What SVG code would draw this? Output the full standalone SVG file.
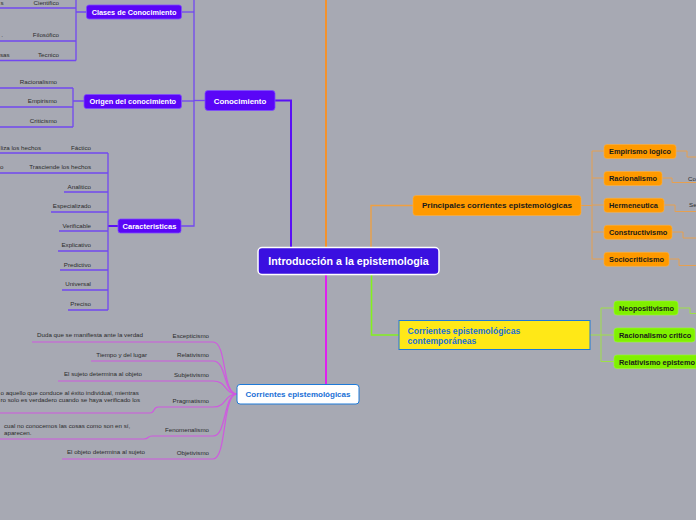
<svg xmlns="http://www.w3.org/2000/svg" width="696" height="520" viewBox="0 0 696 520">
<style>
  .bg{fill:#a7a9b3}
  .t{font-family:"Liberation Sans",Arial,sans-serif;font-size:6.2px;fill:#2b2b2b}
  .te{text-anchor:end}
  .nb{font-family:"Liberation Sans",Arial,sans-serif;font-weight:bold}
  .pn{fill:#5a06f7;stroke:#7d4cff;stroke-width:0.8}
  .on{fill:#ff9a00;stroke:#ffb040;stroke-width:0.6}
  .gn{fill:#80f000;stroke:#9cff30;stroke-width:0.6}
  .wt{fill:#fff}
  .dk{fill:#1a1a1a}
  .pl{fill:none;stroke:#7248f0;stroke-width:1.3}
  .pm{fill:none;stroke:#5a10f5;stroke-width:2}
  .ml{fill:none;stroke:#d058e0;stroke-width:1.2}
  .ol{fill:none;stroke:#e6a050;stroke-width:1}
  .gl{fill:none;stroke:#9ee046;stroke-width:1}
</style>
<rect class="bg" x="0" y="0" width="696" height="520"/>

<g id="connectors">
  <path class="pm" d="M291,247 V100.5 H275"/>
  <path fill="none" stroke="#f3922c" stroke-width="2" d="M326,247 V-2"/>
  <path fill="none" stroke="#f0a040" stroke-width="1.3" d="M371,247 V205.5 H413"/>
  <path fill="none" stroke="#e020f0" stroke-width="2" d="M326,274 V385"/>
  <path fill="none" stroke="#84f020" stroke-width="1.6" d="M371.5,274 V335 H399"/>

  <path class="pl" d="M194,-2 V226 H181"/>
  <path class="pl" d="M194,100.5 H205"/>
  <path class="pl" d="M194,12 H182"/>
  <path class="pl" d="M194,101 H182"/>

  <path class="pl" d="M86,12 H76 M76,-2 V60.5 M0,8 H76 M0,41 H76 M0,60.5 H76"/>
  <path class="pl" d="M84,101 H73 M73,88 V127 M0,88 H73 M0,107 H73 M0,127 H73"/>
  <path class="pm" d="M118,226 H108"/>
  <path class="pl" d="M108,153 V310 M0,153 H108 M0,173 H108 M64,192 H108 M51,212 H108 M59,231 H108 M58,251 H108 M60,270 H108 M62,290 H108 M68,310 H108"/>

  <path class="ml" d="M237,394 C222,394 227,342 213,342 H32"/>
  <path class="ml" d="M237,394 C223,394 227,361 213,361 H91"/>
  <path class="ml" d="M237,394 C224,394 227,381 213,381 H58"/>
  <path class="ml" d="M237,394 C224,394 227,407 213,407 H158 C153,407 155,413 150,413 H0"/>
  <path class="ml" d="M237,394 C223,394 227,436 213,436 H152 C147,436 149,439 144,439 H0"/>
  <path class="ml" d="M237,394 C222,394 227,459 213,459 H62"/>

  <path class="ol" d="M581,205.5 H592 M592,151 V259 M592,151 H604 M592,178 H604 M592,205 H604 M592,232 H604 M592,259 H604"/>
  <path class="ol" d="M676,151 H687 V157 H696"/>
  <path class="ol" d="M662,178 H672 V182.5 H696"/>
  <path class="ol" d="M664,205 H675 V211.5 H696"/>
  <path class="ol" d="M672,232 H683 V238 H696"/>
  <path class="ol" d="M669,259 H679 V265.5 H696"/>

  <path class="gl" d="M590,335 H601 M601,308 V361.5 M601,308 H614 M601,335 H614 M601,361.5 H614"/>
  <path class="gl" d="M678,308 H690 V313.5 H696"/>
</g>

<g id="central">
  <rect x="258" y="247.5" width="181" height="27" rx="4" fill="#3a10e0" stroke="#ffffff" stroke-width="1.5"/>
  <text class="nb wt" x="348.5" y="265.3" font-size="10.7" text-anchor="middle">Introducción a la epistemologia</text>
</g>

<g id="conocimiento">
  <rect class="pn" x="205" y="90.5" width="70" height="20" rx="3"/>
  <text class="nb wt" x="240" y="103.5" font-size="7.9" text-anchor="middle">Conocimiento</text>
</g>

<g id="clases">
  <rect class="pn" x="86.5" y="5" width="95" height="14" rx="2.5"/>
  <text class="nb wt" x="134" y="14.6" font-size="7.3" text-anchor="middle">Clases de Conocimiento</text>
</g>
<g id="clases-children">
  <text class="t te" x="59" y="5.2">Cientifico</text>
  <text class="t te" x="59" y="37">Filosófico</text>
  <text class="t te" x="59" y="57">Tecnico</text>
  <text class="t te" x="3.5" y="5.2">s</text>
  <text class="t te" x="3" y="37">.</text>
  <text class="t te" x="9.6" y="57">sas</text>
</g>

<g id="origen">
  <rect class="pn" x="84" y="94.5" width="97.5" height="14" rx="2.5"/>
  <text class="nb wt" x="132.8" y="104.2" font-size="7.4" text-anchor="middle">Origen del conocimiento</text>
</g>
<g id="origen-children">
  <text class="t te" x="57" y="84">Racionalismo</text>
  <text class="t te" x="57" y="103">Empirismo</text>
  <text class="t te" x="57" y="123">Criticismo</text>
</g>

<g id="caracteristicas">
  <rect class="pn" x="118" y="219" width="63" height="14" rx="2.5"/>
  <text class="nb wt" x="149.5" y="228.7" font-size="7.5" text-anchor="middle">Caracteristicas</text>
</g>
<g id="caracteristicas-children">
  <text class="t te" x="91" y="150">Fáctico</text>
  <text class="t te" x="41" y="150">liza los hechos</text>
  <text class="t te" x="91" y="169">Trasciende los hechos</text>
  <text class="t te" x="3.5" y="169">o</text>
  <text class="t te" x="91" y="189">Analitico</text>
  <text class="t te" x="91" y="208">Especializado</text>
  <text class="t te" x="91" y="228">Verificable</text>
  <text class="t te" x="91" y="247">Explicativo</text>
  <text class="t te" x="91" y="267">Predictivo</text>
  <text class="t te" x="91" y="286">Universal</text>
  <text class="t te" x="91" y="306">Preciso</text>
</g>

<g id="corrientes">
  <rect x="237" y="384.5" width="122" height="19.5" rx="3" fill="#ffffff" stroke="#1e7ad8" stroke-width="1"/>
  <text class="nb" x="298" y="397.2" font-size="8" text-anchor="middle" fill="#1a6fd6">Corrientes epistemológicas</text>
</g>
<g id="corrientes-children">
  <text class="t te" x="209" y="338">Escepticismo</text>
  <text class="t te" x="143" y="337">Duda que se manifiesta ante la verdad</text>
  <text class="t te" x="209" y="357">Relativismo</text>
  <text class="t te" x="147" y="357">Tiempo y del lugar</text>
  <text class="t te" x="209" y="377">Subjetivismo</text>
  <text class="t te" x="142" y="376">El sujeto determina al objeto</text>
  <text class="t te" x="209" y="403">Pragmatismo</text>
  <text class="t" x="0.5" y="395">o aquello que conduce al éxito individual, mientras</text>
  <text class="t" x="0.5" y="402">ro solo es verdadero cuando se haya verificado los</text>
  <text class="t te" x="209" y="432">Fenomenalismo</text>
  <text class="t" x="4" y="428">cual no conocemos las cosas como son en sí,</text>
  <text class="t" x="4" y="435">aparecen.</text>
  <text class="t te" x="209" y="455">Objetivismo</text>
  <text class="t te" x="145" y="454">El objeto determina al sujeto</text>
</g>

<g id="principales">
  <rect class="on" x="413" y="195.5" width="168" height="20" rx="3"/>
  <text class="nb dk" x="497" y="208.3" font-size="8.1" text-anchor="middle">Principales corrientes epistemológicas</text>
</g>
<g id="empirismo-logico">
  <rect class="on" x="604" y="144.5" width="72" height="14" rx="3"/>
  <text class="nb dk" x="609" y="154.2" font-size="7.4">Empirismo logico</text>
</g>
<g id="racionalismo">
  <rect class="on" x="604" y="171.5" width="58" height="14" rx="3"/>
  <text class="nb dk" x="609" y="181.2" font-size="7.4">Racionalismo</text>
</g>
<g id="hermeneutica">
  <rect class="on" x="604" y="198.3" width="60" height="14" rx="3"/>
  <text class="nb dk" x="609" y="208" font-size="7.4">Hermeneutica</text>
</g>
<g id="constructivismo">
  <rect class="on" x="604" y="225.3" width="68" height="14" rx="3"/>
  <text class="nb dk" x="609" y="235" font-size="7.4">Constructivismo</text>
</g>
<g id="sociocriticismo">
  <rect class="on" x="604" y="252.3" width="65" height="14" rx="3"/>
  <text class="nb dk" x="609" y="262" font-size="7.4">Sociocriticismo</text>
</g>
<g id="orange-grandchildren">
  <text class="t" x="688" y="181" font-size="5.5">Co</text>
  <text class="t" x="689" y="207" font-size="5.5">Se</text>
</g>

<g id="contemporaneas">
  <rect x="399" y="320.5" width="191" height="29" fill="#ffe817" stroke="#1e7ad8" stroke-width="1"/>
  <text class="nb" x="407.5" y="334" font-size="8.6" fill="#1a6fd6">Corrientes epistemológicas</text>
  <text class="nb" x="407.5" y="343.5" font-size="8.6" fill="#1a6fd6">contemporáneas</text>
</g>
<g id="neopositivismo">
  <rect class="gn" x="614" y="301" width="64" height="14" rx="3"/>
  <text class="nb dk" x="619" y="310.7" font-size="7.4">Neopositivismo</text>
</g>
<g id="racionalismo-critico">
  <rect class="gn" x="614" y="328" width="81" height="14" rx="3"/>
  <text class="nb dk" x="619" y="337.7" font-size="7.4">Racionalismo critico</text>
</g>
<g id="relativismo-epistemologico">
  <rect class="gn" x="614" y="355" width="90" height="13.5" rx="3"/>
  <text class="nb dk" x="619" y="364.5" font-size="7.4">Relativismo epistemo</text>
</g>
</svg>
